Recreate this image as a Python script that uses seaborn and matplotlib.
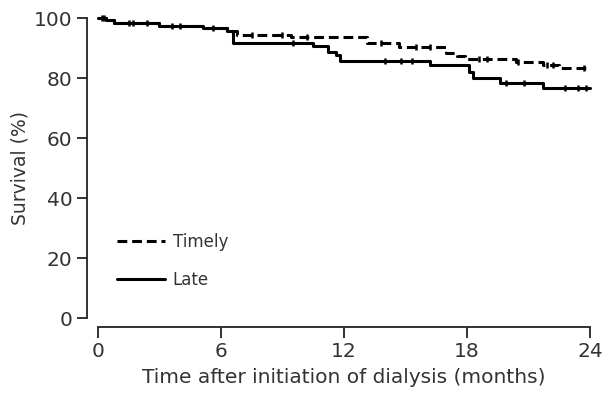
import matplotlib
matplotlib.use("Agg")
import matplotlib.pyplot as plt
import seaborn as sns
import pandas as pd

# Kaplan-Meier step values (months, survival %)
timely_t = [0, 0.4, 0.8, 3.0, 5.1, 6.3, 6.8, 9.4, 13.1, 14.7, 17.0, 17.5, 17.9, 20.4, 21.7, 22.5, 24]
timely_s = [100, 99.3, 98.3, 97.5, 96.8, 95.8, 94.5, 93.6, 91.7, 90.3, 88.5, 87.5, 86.3, 85.5, 84.5, 83.3, 83.3]

late_t = [0, 0.4, 0.8, 3.0, 5.1, 6.3, 6.6, 10.5, 11.2, 11.6, 11.8, 16.2, 18.1, 18.3, 19.6, 21.7, 24]
late_s = [100, 99.3, 98.3, 97.5, 96.8, 95.8, 91.8, 90.8, 88.8, 87.7, 85.7, 84.5, 82.0, 80.0, 78.3, 76.7, 76.7]

# censoring marks
timely_cens = [0.2, 1.5, 2.4, 4.0, 7.5, 9.0, 10.2, 13.8, 15.5, 16.2, 18.6, 19.0, 20.5, 21.9, 22.2, 23.7]
late_cens = [0.3, 1.7, 3.6, 5.6, 9.5, 14.0, 14.8, 15.3, 19.9, 20.8, 22.8, 23.4, 23.8]

groups = ["Timely", "Late"]
dashes = {"Timely": (3.2, 1.6), "Late": ""}


def value_at(ts, ss, x):
    v = ss[0]
    for t, s in zip(ts, ss):
        if t <= x:
            v = s
    return v


df = pd.concat([
    pd.DataFrame({"month": timely_t, "survival": timely_s, "group": "Timely"}),
    pd.DataFrame({"month": late_t, "survival": late_s, "group": "Late"}),
])

sns.set_style("ticks")
plt.rcParams["font.family"] = ["DejaVu Sans"]

fig = plt.figure(figsize=(6.06, 3.95), dpi=100)
ax = fig.add_axes([0.1617, 0.1949, 0.8119, 0.7595])

sns.lineplot(data=df, x="month", y="survival", hue="group", style="group",
             dashes=dashes, palette={"Timely": "black", "Late": "black"},
             drawstyle="steps-post", linewidth=2.2, estimator=None,
             sort=False, ax=ax, legend=False, clip_on=False)

for ts, ss, cens in [(timely_t, timely_s, timely_cens), (late_t, late_s, late_cens)]:
    ys = [value_at(ts, ss, c) for c in cens]
    ax.plot(cens, ys, linestyle="none", marker="|", markersize=5,
            markeredgewidth=1.8, color="black", clip_on=False)

# legend drawn as proxy handles
h_t, = ax.plot([], [], color="black", linewidth=2.2, dashes=(3.2, 1.6))
h_l, = ax.plot([], [], color="black", linewidth=2.2)
leg = ax.legend([h_t, h_l], groups, frameon=False, loc="center left",
                bbox_to_anchor=(0.0386, 0.1917), fontsize=12, handlelength=2.9,
                handletextpad=0.45, labelspacing=1.2, borderpad=0, borderaxespad=0)
for txt in leg.get_texts():
    txt.set_color("#333333")

ax.set_xlim(0, 24)
ax.set_ylim(0, 100)
ax.set_xticks([0, 6, 12, 18, 24])
ax.set_yticks([0, 20, 40, 60, 80, 100])
ax.set_xlabel("Time after initiation of dialysis (months)", fontsize=14.5,
              color="#333333", labelpad=5)
ax.set_ylabel("Survival (%)", fontsize=13.5, color="#333333", labelpad=3)
ax.tick_params(axis="both", labelsize=14.5, width=1.3, color="#222222",
               labelcolor="#333333")
ax.tick_params(axis="x", length=8, pad=3)
ax.tick_params(axis="y", length=7, pad=3.5)

sns.despine(ax=ax, offset={"left": 8, "bottom": 6.5})
for side in ["left", "bottom"]:
    ax.spines[side].set_linewidth(1.3)
    ax.spines[side].set_color("#222222")

fig.savefig("out.png", dpi=100)
plt.close(fig)
